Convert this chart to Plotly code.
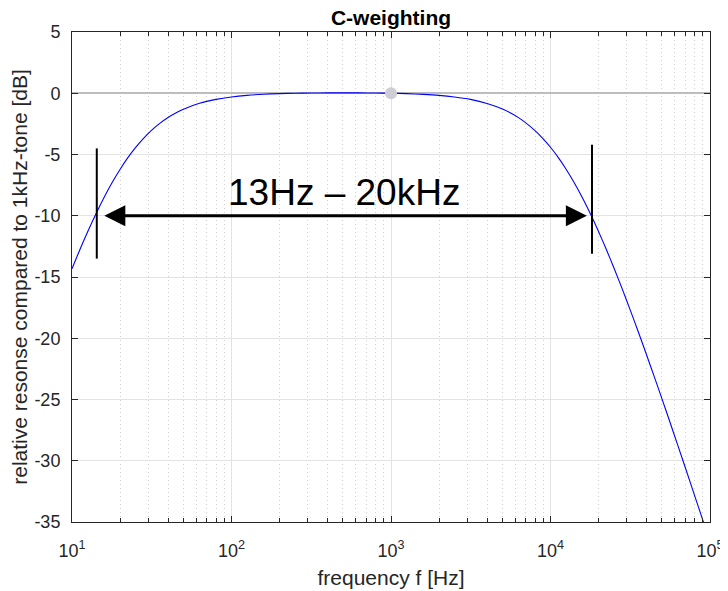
import math
import plotly.graph_objects as go

# C-weighting response (frequency in Hz, level in dB)
freq_hz = [10, 11.2, 12.5, 14, 16, 18, 20, 22.4, 25, 28, 31.5, 35.5, 40, 45, 50, 63, 80,
           100, 125, 160, 200, 250, 315, 400, 500, 630, 800, 1000, 1250, 1600, 2000,
           2500, 3150, 4000, 5000, 6300, 8000, 9000, 10000, 11200, 12500, 14000, 16000,
           18000, 20000, 22400, 25000, 28000, 31500, 35500, 40000, 45000, 50000, 56000,
           63000, 71000, 80000, 90000, 100000]
level_db = [-14.33, -12.77, -11.34, -9.95, -8.43, -7.21, -6.22, -5.26, -4.44, -3.70,
            -3.03, -2.46, -1.98, -1.59, -1.30, -0.82, -0.50, -0.30, -0.17, -0.08, -0.03,
            0.00, 0.02, 0.03, 0.03, 0.03, 0.02, 0.00, -0.03, -0.09, -0.17, -0.30, -0.50,
            -0.83, -1.29, -1.99, -3.05, -3.72, -4.41, -5.25, -6.18, -7.24, -8.63, -9.98,
            -11.28, -12.76, -14.27, -15.89, -17.64, -19.47, -21.35, -23.24, -24.95,
            -26.82, -28.79, -30.80, -32.82, -34.82, -36.62]

ref_freq = [1000]
ref_level = [0]

marker_freqs = [14.3, 18200]      # vertical band-edge marks
marker_top = [-4.5, -4.2]
marker_bottom = [-13.5, -13.1]
arrow_freqs = [15.6, 16900]       # arrow tips
arrow_level = -10
band_label = "13Hz – 20kHz"
band_label_pos = (505, -8.1)      # (frequency, level) of the label centre

x_tick_vals = [10, 100, 1000, 10000, 100000]
x_tick_text = ["10<sup>1</sup>", "10<sup>2</sup>", "10<sup>3</sup>", "10<sup>4</sup>", "10<sup>5</sup>"]
y_tick_vals = [5, 0, -5, -10, -15, -20, -25, -30, -35]
y_tick_text = ["5", "0", "-5", "-10", "-15", "-20", "-25", "-30", "-35"]

FONT = "Liberation Sans, Arial, sans-serif"

fig = go.Figure()

fig.add_trace(go.Scatter(x=freq_hz, y=level_db, mode="lines",
                         line=dict(color="#0000ff", width=1.1, shape="spline", smoothing=0.8),
                         hoverinfo="skip", showlegend=False))
fig.add_trace(go.Scatter(x=ref_freq, y=ref_level, mode="markers",
                         marker=dict(color="#cdcdd3", size=12),
                         showlegend=False))

for f, yt, yb in zip(marker_freqs, marker_top, marker_bottom):
    fig.add_trace(go.Scatter(x=[f, f], y=[yt, yb], mode="lines",
                             line=dict(color="black", width=2), showlegend=False))

fig.add_annotation(x=math.log10(arrow_freqs[1]), y=arrow_level,
                   ax=math.log10(arrow_freqs[0]), ay=arrow_level,
                   xref="x", yref="y", axref="x", ayref="y",
                   text="", showarrow=True, arrowside="end+start",
                   arrowhead=2, arrowsize=1.4, arrowwidth=3, arrowcolor="black")

fig.add_annotation(x=math.log10(band_label_pos[0]), y=band_label_pos[1],
                   xref="x", yref="y", text=band_label, showarrow=False,
                   font=dict(family=FONT, size=37, color="black"))

axis_common = dict(showline=True, linecolor="#262626", linewidth=1, mirror="ticks",
                   ticks="inside", tickcolor="#262626", ticklen=6, automargin=False,
                   tickfont=dict(family=FONT, size=18, color="#262626"),
                   showgrid=True, gridcolor="#e3e3e3", gridwidth=1)

fig.update_xaxes(type="log", range=[1, 5], tickvals=x_tick_vals, ticktext=x_tick_text,
                 ticklabelstandoff=12,
                 title=dict(text="frequency f [Hz]",
                            font=dict(family=FONT, size=21, color="#262626"),
                            standoff=10),
                 minor=dict(dtick="D1", ticks="inside", ticklen=4, tickcolor="#262626",
                            showgrid=True, gridcolor="#cfcfcf", griddash="1px,3px", gridwidth=1),
                 zeroline=False, **axis_common)
fig.update_yaxes(range=[-35, 5], tickvals=y_tick_vals, ticktext=y_tick_text,
                 ticklabelstandoff=7,
                 title=dict(text="relative resonse compared to 1kHz-tone [dB]",
                            font=dict(family=FONT, size=21, color="#262626"),
                            standoff=2),
                 zeroline=True, zerolinecolor="#bdbdbd", zerolinewidth=2,
                 **axis_common)

# the page body adds an 8px offset, so the figure is 720x583 with margins trimmed by 8px
fig.update_layout(
    width=720, height=583,
    margin=dict(l=64, r=18, t=24, b=69),
    paper_bgcolor="white", plot_bgcolor="white",
    title=dict(text="<b>C-weighting</b>", x=383 / 720, xanchor="center",
               y=1 - 10 / 583, yanchor="middle",
               font=dict(family=FONT, size=21, color="black")),
    showlegend=False,
)

fig.write_html("out.html")
